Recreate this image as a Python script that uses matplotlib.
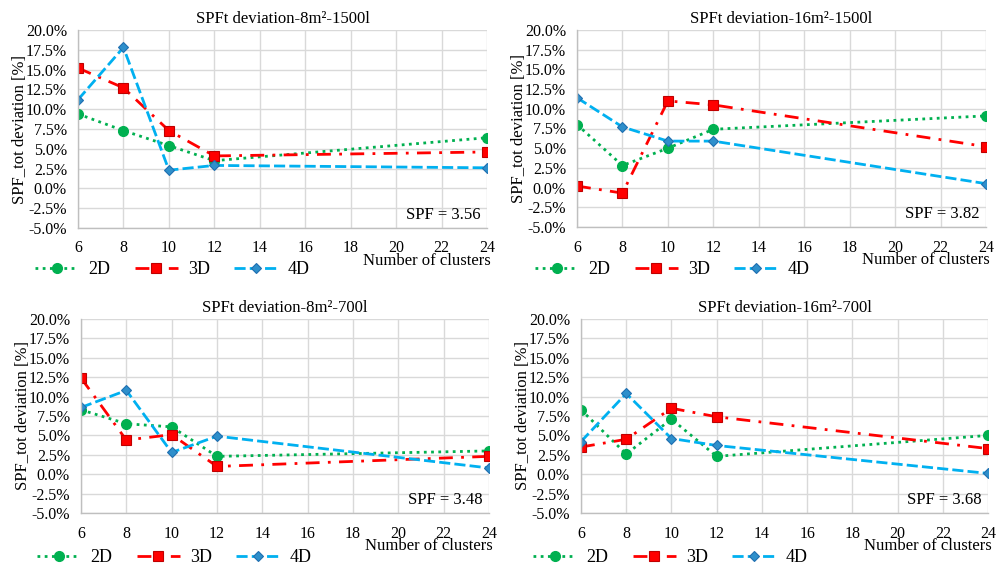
import matplotlib
matplotlib.use("Agg")
import matplotlib.pyplot as plt

plt.rcParams['font.family'] = ['Liberation Serif', 'DejaVu Serif']

clusters = [6, 8, 10, 12, 24]
x_ticks = [6, 8, 10, 12, 14, 16, 18, 20, 22, 24]
y_ticks = [-5.0, -2.5, 0.0, 2.5, 5.0, 7.5, 10.0, 12.5, 15.0, 17.5, 20.0]

titles = ["SPFt deviation-8m²-1500l", "SPFt deviation-16m²-1500l",
          "SPFt deviation-8m²-700l", "SPFt deviation-16m²-700l"]
spf_labels = ["SPF = 3.56", "SPF = 3.82", "SPF = 3.48", "SPF = 3.68"]

# deviation values in %
d2_8_1500 = [9.4, 7.3, 5.4, 3.5, 6.4]
d3_8_1500 = [15.2, 12.7, 7.3, 4.1, 4.6]
d4_8_1500 = [11.2, 17.8, 2.3, 2.9, 2.6]

d2_16_1500 = [8.0, 2.8, 5.0, 7.4, 9.1]
d3_16_1500 = [0.2, -0.7, 11.0, 10.5, 5.2]
d4_16_1500 = [11.4, 7.7, 5.9, 5.9, 0.5]

d2_8_700 = [8.3, 6.5, 6.1, 2.3, 3.0]
d3_8_700 = [12.4, 4.4, 5.1, 1.0, 2.3]
d4_8_700 = [8.6, 10.8, 2.8, 4.9, 0.8]

d2_16_700 = [8.3, 2.6, 7.1, 2.3, 5.0]
d3_16_700 = [3.5, 4.5, 8.5, 7.4, 3.3]
d4_16_700 = [4.2, 10.4, 4.6, 3.7, 0.1]

datasets = [(d2_8_1500, d3_8_1500, d4_8_1500),
            (d2_16_1500, d3_16_1500, d4_16_1500),
            (d2_8_700, d3_8_700, d4_8_700),
            (d2_16_700, d3_16_700, d4_16_700)]

W, H = 998, 568
fig = plt.figure(figsize=(W / 100, H / 100), dpi=100)

# axes boxes in pixels: left, right, top, bottom
boxes = [(78, 487, 30, 228), (577, 986, 30, 227), (81, 489, 319, 513), (581, 988, 319, 513)]
legend_x = [35, 535, 37, 533]
legend_y = [270, 270, 558, 558]

green = '#00B050'
red = '#FF0000'
blue = '#00B0F0'

for i, (l, r, t, b) in enumerate(boxes):
    ax = fig.add_axes([l / W, 1 - b / H, (r - l) / W, (b - t) / H])
    d2, d3, d4 = datasets[i]
    h2, = ax.plot(clusters, d2, color=green, lw=2, linestyle=(0, (1, 1.6)),
                  marker='o', markersize=7, markerfacecolor=green, markeredgecolor=green, label='2D')
    h3, = ax.plot(clusters, d3, color=red, lw=2, linestyle=(0, (5, 3, 1, 3)),
                  marker='s', markersize=7, markerfacecolor=red, markeredgecolor='#C00000',
                  markeredgewidth=0.8, label='3D')
    h4, = ax.plot(clusters, d4, color=blue, lw=2, linestyle=(0, (4, 1.5)),
                  marker='D', markersize=5.5, markerfacecolor='#2E8FCB', markeredgecolor='#1F6FB0',
                  markeredgewidth=0.8, label='4D')
    ax.set_xlim(6, 24)
    ax.set_ylim(-5, 20)
    ax.set_xticks(x_ticks)
    ax.set_yticks(y_ticks)
    ax.set_yticklabels([f"{v:.1f}%" for v in y_ticks])
    ax.tick_params(length=0, labelsize=11.5)
    ax.tick_params(axis='y', pad=8)
    ax.tick_params(axis='x', pad=9)
    ax.grid(True, color='#D9D9D9', lw=1)
    ax.set_axisbelow(True)
    for s in ['top', 'right']:
        ax.spines[s].set_visible(False)
    for s in ['left', 'bottom']:
        ax.spines[s].set_color('#BFBFBF')
        ax.spines[s].set_linewidth(1)
    ax.set_title(titles[i], fontsize=12, pad=5)
    ax.set_ylabel("SPF_tot deviation [%]", fontsize=12, labelpad=-1.3)
    ax.text(0.985, 0.025, spf_labels[i], transform=ax.transAxes, ha='right', va='bottom', fontsize=12)
    ax.text((r + 4) / W, 1 - (b + 33) / H, "Number of clusters", transform=fig.transFigure,
            ha='right', va='center', fontsize=12)
    fig.legend(handles=[h2, h3, h4], loc='center left',
               bbox_to_anchor=(legend_x[i] / W, 1 - legend_y[i] / H),
               ncol=3, frameon=False, fontsize=13, handlelength=2.4,
               columnspacing=1.35, handletextpad=0.55, borderaxespad=0, borderpad=0)

fig.savefig("out.png", dpi=100)
